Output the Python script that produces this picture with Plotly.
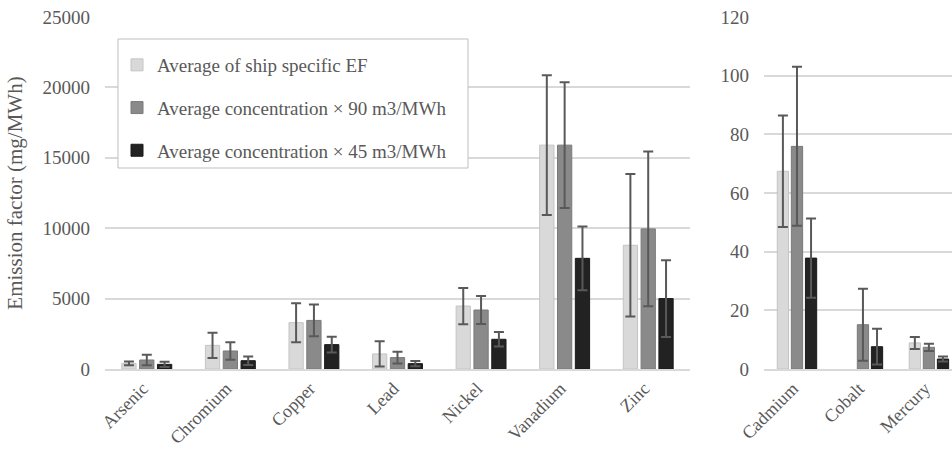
import plotly.graph_objects as go

# ---- data ----
cats_main = ["Arsenic", "Chromium", "Copper", "Lead", "Nickel", "Vanadium", "Zinc"]
cats_small = ["Cadmium", "Cobalt", "Mercury"]

series_names = [
    "Average of ship specific EF",
    "Average concentration × 90 m3/MWh",
    "Average concentration × 45 m3/MWh",
]

ship_main = [400, 1680, 3290, 1070, 4470, 15900, 8790]
ship_main_err = [130, 900, 1385, 900, 1290, 4970, 5060]
c90_main = [640, 1280, 3450, 810, 4190, 15900, 9950]
c90_main_err = [380, 620, 1125, 415, 1000, 4470, 5490]
c45_main = [330, 590, 1730, 380, 2110, 7860, 5000]
c45_main_err = [180, 300, 557, 180, 520, 2260, 2720]

ship_small = [67.4, None, 8.9]
ship_small_err = [19.0, None, 2.05]
c90_small = [75.9, 15.1, 7.4]
c90_small_err = [27.1, 12.3, 1.25]
c45_small = [37.8, 7.6, 3.4]
c45_small_err = [13.5, 6.1, 0.85]

# ---- styles ----
colors = ["#d9d9d9", "#8a8a8a", "#222222"]
edges = ["#c4c4c4", "#7a7a7a", "#1a1a1a"]
err_color = "#595959"
text_color = "#595959"
grid_color = "#d9d9d9"
FONT = "Liberation Serif, Times New Roman, serif"

W, H = 952, 452
ML, MR, MT, MB = 105, 0, 17, 83
PW = W - ML - MR
PH = H - MT - MB

def px_to_paper_x(px):
    return (px - ML) / PW

def px_to_paper_y(py):
    return (H - MB - py) / PH

fig = go.Figure()

main_sets = [(ship_main, ship_main_err), (c90_main, c90_main_err), (c45_main, c45_main_err)]
small_sets = [(ship_small, ship_small_err), (c90_small, c90_small_err), (c45_small, c45_small_err)]

for i, name in enumerate(series_names):
    vals, errs = main_sets[i]
    fig.add_trace(go.Bar(
        x=cats_main, y=vals, name=name, legendgroup=f"g{i}",
        marker=dict(color=colors[i], line=dict(color=edges[i], width=1)),
        error_y=dict(type="data", array=errs, visible=True, color=err_color,
                     thickness=2, width=5),
        xaxis="x", yaxis="y",
    ))
for i, name in enumerate(series_names):
    vals, errs = small_sets[i]
    fig.add_trace(go.Bar(
        x=cats_small, y=vals, name=name, legendgroup=f"g{i}", showlegend=False,
        marker=dict(color=colors[i], line=dict(color=edges[i], width=1)),
        error_y=dict(type="data", array=errs, visible=True, color=err_color,
                     thickness=2, width=5),
        xaxis="x2", yaxis="y2",
    ))

tickfont = dict(family=FONT, size=19, color=text_color)
xtickfont = dict(family=FONT, size=18, color=text_color)
left_end = px_to_paper_x(690)
right_start = px_to_paper_x(764)

fig.update_layout(
    width=W, height=H,
    margin=dict(l=ML, r=MR, t=MT, b=MB, pad=0),
    paper_bgcolor="white", plot_bgcolor="white",
    barmode="group", bargap=0.36, bargroupgap=0.2,
    font=dict(family=FONT, color=text_color),
    xaxis=dict(domain=[0, left_end], anchor="y", tickangle=-45, tickfont=xtickfont,
               showline=True, linecolor=grid_color, linewidth=2, ticks="",
               showgrid=False, range=[-0.5, 6.5], ticklabelstandoff=0,
               ticklabelshift=-4, automargin=False),
    yaxis=dict(domain=[0, 1], anchor="x", range=[0, 25000], dtick=5000,
               tickformat="d", automargin=False,
               showgrid=True, gridcolor=grid_color, gridwidth=2,
               zeroline=False, showline=False, ticks="", tickfont=tickfont,
               ticklabelstandoff=14,
               title=dict(text="Emission factor (mg/MWh)",
                          font=dict(family=FONT, size=21, color=text_color),
                          standoff=14)),
    xaxis2=dict(domain=[right_start, 1], anchor="y2", tickangle=-45, tickfont=xtickfont,
                showline=True, linecolor=grid_color, linewidth=2, ticks="",
                showgrid=False, range=[-0.5, 2.35], ticklabelstandoff=0,
                ticklabelshift=-4, automargin=False),
    yaxis2=dict(domain=[0, 1], anchor="x2", range=[0, 120], dtick=20,
                showgrid=True, gridcolor=grid_color, gridwidth=2, automargin=False,
                zeroline=False, showline=False, ticks="", tickfont=tickfont,
                ticklabelstandoff=14),
    legend=dict(x=px_to_paper_x(117), y=px_to_paper_y(46), xanchor="left", yanchor="top",
                bgcolor="rgba(0,0,0,0)", borderwidth=0,
                font=dict(family=FONT, size=19, color=text_color),
                traceorder="grouped", tracegroupgap=15),
    shapes=[dict(type="rect", xref="paper", yref="paper",
                 x0=px_to_paper_x(118), x1=px_to_paper_x(468),
                 y0=px_to_paper_y(168), y1=px_to_paper_y(39),
                 line=dict(color="#bfbfbf", width=1), fillcolor="white", layer="above")],
)

fig.write_html("out.html")
